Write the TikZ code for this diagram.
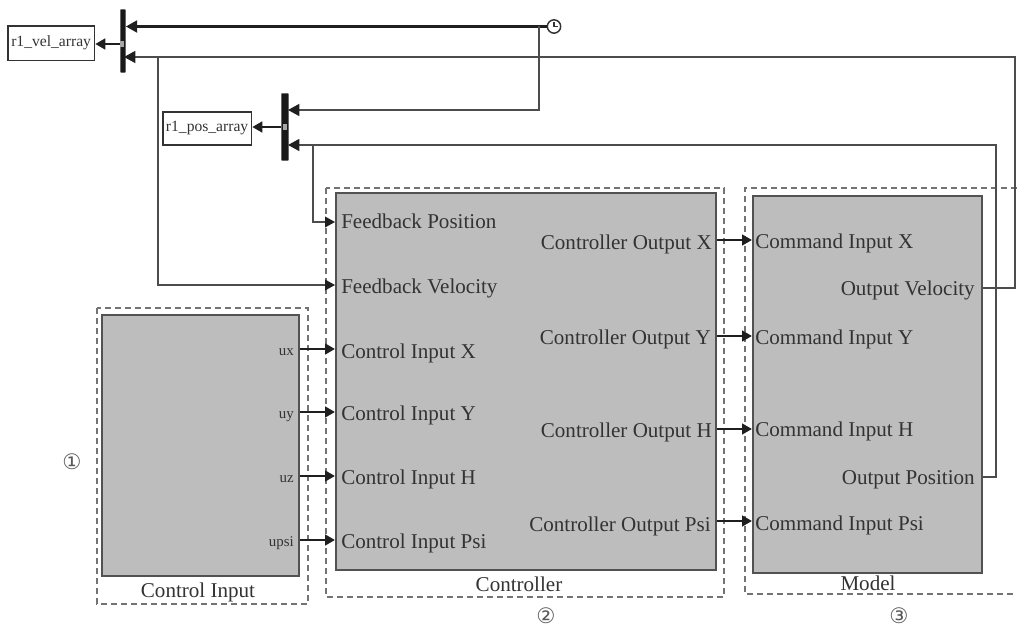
\documentclass[tikz,border=0pt]{standalone}
\usepackage{fontspec}
\setmainfont{Liberation Serif}
\newfontfamily\circfont{DejaVu Sans}
\usetikzlibrary{arrows.meta}
\definecolor{blockgray}{HTML}{BDBDBD}
\definecolor{ink}{HTML}{333333}
\tikzset{
  x=0.75pt,y=-0.75pt,
  block/.style={draw=ink!85,line width=1.5pt,fill=blockgray,inner sep=0pt,anchor=north west},
  region/.style={draw=black!55,line width=0.9pt,dash pattern=on 4.5pt off 3pt},
  sink/.style={draw=ink,line width=1.2pt,fill=white,inner sep=0pt,anchor=north west,text=ink,font=\fontsize{11.7pt}{13pt}\selectfont},
  bus/.style={fill=black!90,draw=none,inner sep=0pt,anchor=north west,rounded corners=0.5pt},
  port/.style={fill=black!35,draw=none,inner sep=0pt,minimum width=3pt,minimum height=4pt},
  biglabel/.style={text=ink,inner sep=0pt,font=\fontsize{15.8pt}{18pt}\selectfont},
  smalllabel/.style={text=ink,inner sep=0pt,font=\fontsize{11.2pt}{13pt}\selectfont},
  signal/.style={draw=black!88,line width=1.8pt,-{Triangle[length=7.5pt,width=8pt]}},
  busin/.style={draw=black!88,line width=1.8pt,-{Triangle[length=8.5pt,width=9pt]}},
  feedback/.style={draw=black!70,line width=1.1pt,line join=miter},
  feedarrow/.style={feedback,-{Triangle[length=7.5pt,width=8pt,color=black!88,fill=black!88]}},
  feedbus/.style={feedback,-{Triangle[length=8.5pt,width=9pt,color=black!88,fill=black!88]}},
  circ/.style={text=black!65,inner sep=0pt,font=\circfont\fontsize{16pt}{18pt}\selectfont},
}
\begin{document}
\begin{tikzpicture}
\useasboundingbox (0,0) rectangle (1017,627);
% dashed regions
\draw[region] (97,308) rectangle (308,604);
\draw[region] (326,188) rectangle (724,597);
\draw[region] (1017,188) -- (745,188) -- (745,594) -- (1017,594);
% blocks
\node[block,minimum width=147.75pt,minimum height=195.75pt] (ctlinput) at (101,314) {};
\node[block,minimum width=285pt,minimum height=282.75pt] (controller) at (335,192) {};
\node[block,minimum width=171.75pt,minimum height=282.75pt] (model) at (752,195) {};
% sinks and buses
\node[sink,minimum width=65pt,minimum height=26pt] (velarr) at (7,25) {r1\_vel\_array};
\node[sink,minimum width=66.5pt,minimum height=25pt] (posarr) at (162,111) {r1\_pos\_array};
\node[bus,minimum width=4pt,minimum height=47.5pt] (mux1) at (120,9) {};
\node[bus,minimum width=5.5pt,minimum height=50.5pt] (mux2) at (281,93) {};
\node[port] (mux1port) at (122,44) {};
\node[port] (mux2port) at (285,127) {};
% clock
\node[draw=ink,line width=1.1pt,circle,minimum size=10pt,inner sep=0pt] (clock) at (554,26.5) {};
\draw[ink,line width=0.9pt] (clock.center) ++(0,-4) -- (clock.center) -- ++(3.5,0);
% labels: left block
\node[smalllabel,anchor=base east] (ux) at (294,355) {ux};
\node[smalllabel,anchor=base east] (uy) at (294,418) {uy};
\node[smalllabel,anchor=base east] (uz) at (294,482) {uz};
\node[smalllabel,anchor=base east] (upsi) at (294,546) {upsi};
% labels: controller inputs
\node[biglabel,anchor=base west] (fbpos) at (341,228.5) {Feedback Position};
\node[biglabel,anchor=base west] (fbvel) at (341,293) {Feedback Velocity};
\node[biglabel,anchor=base west] (cix) at (341,358) {Control Input X};
\node[biglabel,anchor=base west] (ciy) at (341,420) {Control Input Y};
\node[biglabel,anchor=base west] (cih) at (341,484) {Control Input H};
\node[biglabel,anchor=base west] (cipsi) at (341,548) {Control Input Psi};
% labels: controller outputs
\node[biglabel,anchor=base east] (cox) at (712,250) {Controller Output X};
\node[biglabel,anchor=base east] (coy) at (711,344) {Controller Output Y};
\node[biglabel,anchor=base east] (coh) at (712,437) {Controller Output H};
\node[biglabel,anchor=base east] (copsi) at (711,531) {Controller Output Psi};
% labels: model
\node[biglabel,anchor=base west] (cmx) at (755,249) {Command Input X};
\node[biglabel,anchor=base west] (cmy) at (755,344) {Command Input Y};
\node[biglabel,anchor=base west] (cmh) at (755,436) {Command Input H};
\node[biglabel,anchor=base west] (cmpsi) at (755,530) {Command Input Psi};
\node[biglabel,anchor=base east] (ovel) at (975,296) {Output Velocity};
\node[biglabel,anchor=base east] (opos) at (975,484) {Output Position};
% titles
\node[biglabel,anchor=base] (t1) at (198,597) {Control Input};
\node[biglabel,anchor=base] (t2) at (519,591) {Controller};
\node[biglabel,anchor=base] (t3) at (868,590) {Model};
\node[circ] (n1) at (72,462) {①};
\node[circ] (n2) at (546,615.5) {②};
\node[circ] (n3) at (899,615.5) {③};
% signal wires
\foreach \yy in {349,412,476,540}{
  \draw[signal] (ctlinput.east |- 0,\yy) -- (controller.west |- 0,\yy);
}
\foreach \yy in {240,336,429,521}{
  \draw[signal] (controller.east |- 0,\yy) -- (model.west |- 0,\yy);
}
\draw[signal] (mux1.west |- mux1port) -- (velarr.east |- mux1port);
\draw[signal] (mux2.west |- mux2port) -- (posarr.east |- mux2port);
\draw[busin] (clock.west) -- (mux1.east |- clock.west);
% routing corners
\coordinate (clkdrop) at (539,26.5);
\coordinate (mux2in1) at (288,110);
\coordinate (mux2in2) at (288,145);
\coordinate (mux1in2) at (124,57);
\coordinate (velright) at (1015,288);
\coordinate (posright) at (996,477);
\coordinate (velbranch) at (158,57);
\coordinate (posbranch) at (313,145);
% feedback wires
\draw[feedbus] (clkdrop) -- (clkdrop |- mux2in1) -- (mux2in1);
\draw[feedbus] (model.east |- velright) -- (velright) -- (velright |- mux1in2) -- (mux1in2);
\draw[feedbus] (model.east |- posright) -- (posright) -- (posright |- mux2in2) -- (mux2in2);
\draw[feedarrow] (velbranch) -- (velbranch |- 0,285) -- (controller.west |- 0,285);
\draw[feedarrow] (posbranch) -- (posbranch |- 0,222) -- (controller.west |- 0,222);
\end{tikzpicture}
\end{document}
